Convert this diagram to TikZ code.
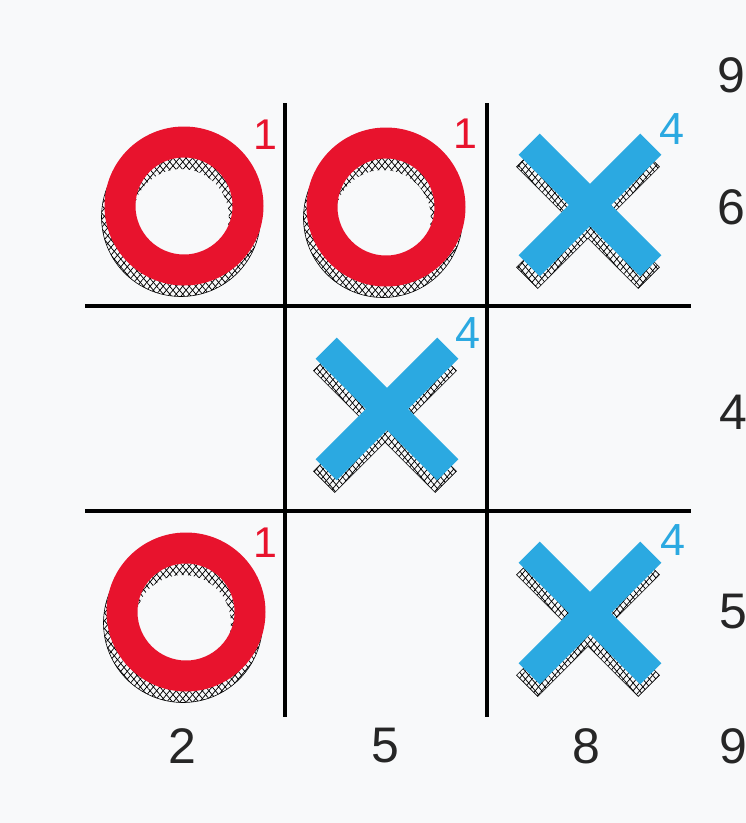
\documentclass[tikz,border=0pt]{standalone}
\usepackage{fontspec}
\setmainfont{Liberation Sans}
\usetikzlibrary{patterns.meta}
\definecolor{ored}{HTML}{E8132D}
\definecolor{xblue}{HTML}{2BA9E1}
\definecolor{bgc}{HTML}{F8F9FA}
\begin{document}
\begin{tikzpicture}[x=1pt,y=-1pt,
  hatch/.style={pattern={Lines[angle=50,distance=5pt,line width=0.75pt]},
    postaction={pattern={Lines[angle=-50,distance=5pt,line width=0.75pt]}}},
  gridline/.style={line width=4pt,black},
  blacklbl/.style={inner sep=0pt,font=\fontsize{50}{50}\selectfont,text=black!85},
  redlbl/.style={inner sep=0pt,font=\fontsize{43}{43}\selectfont,text=ored},
  bluelbl/.style={inner sep=0pt,font=\fontsize{45}{45}\selectfont,text=xblue},
  omark/.pic={
    \path[hatch,even odd rule] (-3,11) circle[radius=79.5] (-3,11) circle[radius=48];
    \draw[black,line width=0.6pt] (-3,11) circle[radius=79.5];
    \fill[ored,even odd rule] (0,0) circle[radius=79.5] (0,0) circle[radius=48.5];
  },
  xmark/.pic={
    \path[hatch,shift={(-2,12)},rotate=45] (86,15) -- (15,15) -- (15,86) -- (-15,86) -- (-15,15) -- (-86,15) -- (-86,-15) -- (-15,-15) -- (-15,-86) -- (15,-86) -- (15,-15) -- (86,-15) -- cycle;
    \draw[black,line width=0.6pt,shift={(-2,12)},rotate=45] (86,15) -- (15,15) -- (15,86) -- (-15,86) -- (-15,15) -- (-86,15) -- (-86,-15) -- (-15,-15) -- (-15,-86) -- (15,-86) -- (15,-15) -- (86,-15) -- cycle;
    \fill[xblue,rotate=45] (86,15) -- (15,15) -- (15,86) -- (-15,86) -- (-15,15) -- (-86,15) -- (-86,-15) -- (-15,-15) -- (-15,-86) -- (15,-86) -- (15,-15) -- (86,-15) -- cycle;
  }]
\fill[bgc] (0,0) rectangle (746,823);
\useasboundingbox (0,0) rectangle (746,823);
% grid
\draw[gridline] (285,103) -- (285,717);
\draw[gridline] (487,103) -- (487,717);
\draw[gridline] (85,306) -- (691,306);
\draw[gridline] (85,511) -- (691,511);
% marks
\pic at (184,206) {omark};
\pic at (386,207) {omark};
\pic at (186,612) {omark};
\pic at (590,205) {xmark};
\pic at (387,409) {xmark};
\pic at (590,613) {xmark};
% small labels
\node[redlbl] (r1) at (265,135) {1};
\node[redlbl] (r2) at (465,134) {1};
\node[redlbl] (r3) at (265,543) {1};
\node[bluelbl] (b1) at (672,129) {4};
\node[bluelbl] (b2) at (468,333) {4};
\node[bluelbl] (b3) at (673,540) {4};
% border numbers
\node[blacklbl] (n9a) at (731,75) {9};
\node[blacklbl] (n6) at (731,207) {6};
\node[blacklbl] (n4) at (733,412) {4};
\node[blacklbl] (n5r) at (733,612) {5};
\node[blacklbl] (n9b) at (733,746) {9};
\node[blacklbl] (n2) at (182,746) {2};
\node[blacklbl] (n5b) at (385,746) {5};
\node[blacklbl] (n8) at (586,746) {8};
\end{tikzpicture}
\end{document}
